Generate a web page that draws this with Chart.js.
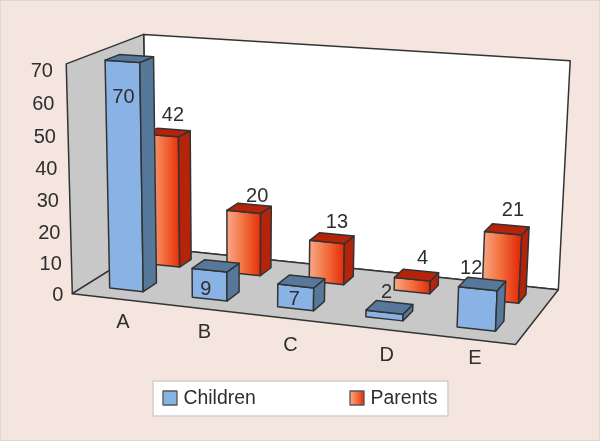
<!DOCTYPE html>
<html lang="en-US">
<head>
    <meta charset="utf-8">
    <title>Children and parents</title>
    <script src="https://cdn.jsdelivr.net/npm/chart.js@4/dist/chart.umd.js"></script>
    <style>
        html, body { margin: 0; padding: 0; background: #f4e5df; }
        canvas { display: block; }
    </style>
</head>
<body>
<canvas id="chart" width="600" height="441"></canvas>
<script>
    const categories = ['A', 'B', 'C', 'D', 'E'];
    const children = [70, 9, 7, 2, 12];
    const parents = [42, 20, 13, 4, 21];
    const yTicks = { min: 0, max: 70, stepSize: 10 };

    // depth of each series on the floor, 0 = front edge, 1 = back wall
    const depthBands = [[0.17, 0.35], [0.68, 0.85]];
    // where the value labels sit relative to the centre of the bar top
    const labelNudge = [
        [[-6, 39], [-10, 24], [-7, 18], [-3, -15], [-11, -15]],
        [[5, -17], [8, -12], [5, -16], [6, -17], [6, -19]]
    ];
    const categoryNudge = [[3, 6], [1, 6], [1, 9], [8, 9], [4, 1]];

    const ink = '#2e2e2e';
    const edge = '#333333';

    // corners of the box (category, depth, value) and where they land on screen
    const frame = [
        [0, 0, 0, 74, 294],
        [1, 0, 0, 515, 345],
        [1, 1, 0, 559, 289],
        [0, 1, 0, 145, 247],
        [0, 0, 1, 65, 63],
        [0, 1, 1, 145, 35],
        [1, 1, 1, 570, 61]
    ];

    // least squares camera matrix from the frame corners
    function solveCamera(pts) {
        let A = [], b = [];
        pts.forEach(function (p) {
            let X = p[0], Y = p[1], Z = p[2], sx = p[3], sy = p[4];
            A.push([X, Y, Z, 1, 0, 0, 0, 0, -sx * X, -sx * Y, -sx * Z]);
            b.push(sx);
            A.push([0, 0, 0, 0, X, Y, Z, 1, -sy * X, -sy * Y, -sy * Z]);
            b.push(sy);
        });
        let n = 11;
        let M = [];
        for (let i = 0; i < n; i++) {
            M.push([]);
            for (let j = 0; j <= n; j++) {
                let s = 0;
                for (let k = 0; k < A.length; k++) {
                    s += A[k][i] * (j < n ? A[k][j] : b[k]);
                }
                M[i].push(s);
            }
        }
        for (let i = 0; i < n; i++) {
            let best = i;
            for (let r = i + 1; r < n; r++) {
                if (Math.abs(M[r][i]) > Math.abs(M[best][i])) best = r;
            }
            let tmp = M[i]; M[i] = M[best]; M[best] = tmp;
            for (let r = 0; r < n; r++) {
                if (r === i) continue;
                let f = M[r][i] / M[i][i];
                for (let c = i; c <= n; c++) M[r][c] -= f * M[i][c];
            }
        }
        return M.map(function (row, i) { return row[n] / row[i]; });
    }

    const cam = solveCamera(frame);

    function project(u, d, v) {
        let w = cam[8] * u + cam[9] * d + cam[10] * v + 1;
        return {
            x: (cam[0] * u + cam[1] * d + cam[2] * v + cam[3]) / w,
            y: (cam[4] * u + cam[5] * d + cam[6] * v + cam[7]) / w
        };
    }

    function poly(ctx, pts, fill, stroke) {
        ctx.beginPath();
        pts.forEach(function (p, i) {
            if (i === 0) ctx.moveTo(p.x, p.y); else ctx.lineTo(p.x, p.y);
        });
        ctx.closePath();
        if (fill) { ctx.fillStyle = fill; ctx.fill(); }
        if (stroke) {
            ctx.strokeStyle = stroke;
            ctx.lineJoin = 'round';
            ctx.lineWidth = 1.5;
            ctx.stroke();
        }
    }

    function text(ctx, str, x, y, size, align) {
        ctx.fillStyle = ink;
        ctx.font = size + 'px "Liberation Sans", Arial, sans-serif';
        ctx.textAlign = align || 'center';
        ctx.textBaseline = 'middle';
        ctx.fillText(str, x, y);
    }

    function redGradient(ctx, x0, x1) {
        let g = ctx.createLinearGradient(x0, 0, x1, 0);
        g.addColorStop(0, '#f8a888');
        g.addColorStop(0.5, '#f2703f');
        g.addColorStop(1, '#e52e0b');
        return g;
    }

    const seriesStyle = [
        { front: function () { return '#8ab3e5'; }, dark: '#56799b' },
        { front: redGradient, dark: '#b5230a' }
    ];

    const scene = {
        id: 'scene',
        beforeDraw: function (chart) {
            let ctx = chart.ctx;
            ctx.save();
            ctx.fillStyle = '#f4e5df';
            ctx.fillRect(0, 0, 600, 441);
            ctx.strokeStyle = '#dcd8d5';
            ctx.lineWidth = 2;
            ctx.strokeRect(0, 0, 600, 441);

            // back wall, side wall, floor
            poly(ctx, [project(0, 1, 1), project(1, 1, 1), project(1, 1, 0), project(0, 1, 0)], '#ffffff', edge);
            poly(ctx, [project(0, 0, 1), project(0, 1, 1), project(0, 1, 0), project(0, 0, 0)], '#c8c8c8', edge);
            poly(ctx, [project(0, 0, 0), project(1, 0, 0), project(1, 1, 0), project(0, 1, 0)], '#c8c8c8', edge);

            // value axis labels follow the front edge of the side wall
            let y = chart.scales.y;
            let area = chart.chartArea;
            y.ticks.forEach(function (t) {
                let v = (area.bottom - y.getPixelForValue(t.value)) / area.height;
                let p = project(0, 0, v * 0.975);
                text(ctx, String(t.value), p.x - 9 - 4.5 * v, p.y + 2, 20, 'right');
            });

            // category labels below the floor
            let x = chart.scales.x;
            categories.forEach(function (c, i) {
                let u = (x.getPixelForValue(i) - area.left) / area.width;
                let p = project(u, 0.08, -0.1);
                text(ctx, c, p.x + categoryNudge[i][0], p.y + categoryNudge[i][1], 20);
            });
            ctx.restore();
        },
        afterDatasetsDraw: function (chart) {
            let ctx = chart.ctx;
            let area = chart.chartArea;
            let labels = [];
            ctx.save();
            // back series first so the front one covers it
            for (let s = chart.data.datasets.length - 1; s >= 0; s--) {
                let d0 = depthBands[s][0], d1 = depthBands[s][1];
                let style = seriesStyle[s];
                chart.getDatasetMeta(s).data.forEach(function (el, i) {
                    let u0 = (el.x - el.width / 2 - area.left) / area.width;
                    let u1 = (el.x + el.width / 2 - area.left) / area.width;
                    let v = (area.bottom - el.y) / area.height;
                    let fl = project(u0, d0, 0), fr = project(u1, d0, 0);
                    let tl = project(u0, d0, v), tr = project(u1, d0, v);
                    let br = project(u1, d1, 0), bt = project(u1, d1, v), bl = project(u0, d1, v);
                    poly(ctx, [fl, fr, tr, tl], style.front(ctx, fl.x, fr.x), edge);
                    poly(ctx, [fr, br, bt, tr], style.dark, edge);
                    poly(ctx, [tl, tr, bt, bl], style.dark, edge);
                    let c = project((u0 + u1) / 2, (d0 + d1) / 2, v);
                    labels.push([chart.data.datasets[s].data[i], c.x + labelNudge[s][i][0], c.y + labelNudge[s][i][1]]);
                });
            }
            labels.forEach(function (l) { text(ctx, String(l[0]), l[1], l[2], 20); });

            // legend box
            ctx.fillStyle = '#ffffff';
            ctx.fillRect(153, 381, 295, 35);
            ctx.strokeStyle = '#d2cdca';
            ctx.lineWidth = 1.5;
            ctx.strokeRect(153, 381, 295, 35);
            let swatchX = [163, 350];
            chart.data.datasets.forEach(function (ds, s) {
                let sx = swatchX[s];
                ctx.fillStyle = seriesStyle[s].front(ctx, sx, sx + 14);
                ctx.fillRect(sx, 391, 14, 14);
                ctx.strokeStyle = '#555555';
                ctx.lineWidth = 1.3;
                ctx.strokeRect(sx, 391, 14, 14);
                text(ctx, ds.label, sx + 20.5, 398.5, 19.4, 'left');
            });
            ctx.restore();
        }
    };

    new Chart(document.getElementById('chart'), {
        type: 'bar',
        data: {
            labels: categories,
            datasets: [
                { label: 'Children', data: children, grouped: false, backgroundColor: 'transparent', borderWidth: 0 },
                { label: 'Parents', data: parents, grouped: false, backgroundColor: 'transparent', borderWidth: 0 }
            ]
        },
        options: {
            responsive: false,
            animation: false,
            devicePixelRatio: 1,
            layout: { padding: { left: 70, right: 85, top: 62, bottom: 147 } },
            datasets: { bar: { categoryPercentage: 1, barPercentage: 0.41 } },
            plugins: { legend: { display: false }, tooltip: { enabled: false } },
            scales: {
                x: { display: false },
                y: { display: false, min: yTicks.min, max: yTicks.max, ticks: { stepSize: yTicks.stepSize } }
            }
        },
        plugins: [scene]
    });
</script>
</body>
</html>
